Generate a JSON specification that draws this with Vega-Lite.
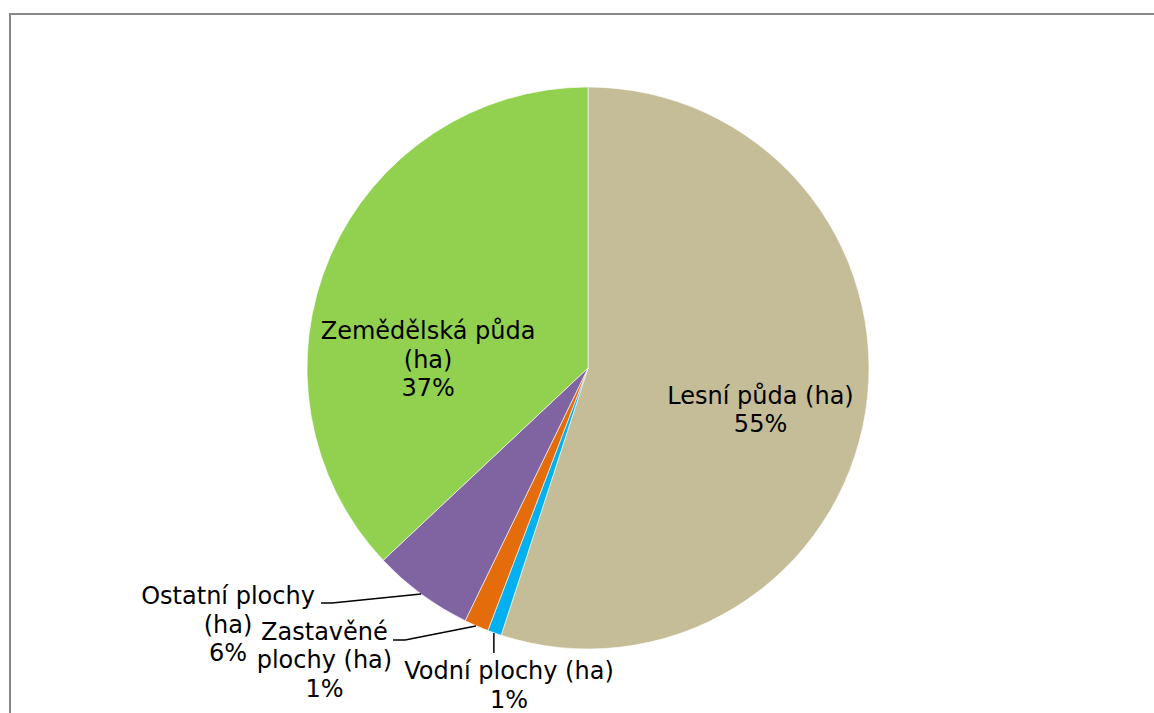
{
  "$schema": "https://vega.github.io/schema/vega-lite/v6.json",
  "width": 1156,
  "height": 708,
  "autosize": {"type": "none"},
  "padding": {"left": 10, "top": 14, "right": 0, "bottom": 0},
  "background": "#ffffff",
  "config": {
    "view": {"stroke": "#888888", "strokeWidth": 2},
    "font": "DejaVu Sans"
  },
  "datasets": {
    "vysece": [
      {"kategorie": "Lesní půda (ha)", "podil": 55.0, "poradi": 1},
      {"kategorie": "Vodní plochy (ha)", "podil": 0.8, "poradi": 2},
      {"kategorie": "Zastavěné plochy (ha)", "podil": 1.4, "poradi": 3},
      {"kategorie": "Ostatní plochy (ha)", "podil": 5.8, "poradi": 4},
      {"kategorie": "Zemědělská půda (ha)", "podil": 37.0, "poradi": 5}
    ],
    "popisky": [
      {"kategorie": "Lesní půda (ha)", "text": "Lesní půda (ha)\n55%", "lx": 61.4, "ly": -10.3},
      {"kategorie": "Zemědělská půda (ha)", "text": "Zemědělská půda\n(ha)\n37%", "lx": -56.9, "ly": 12.8},
      {"kategorie": "Ostatní plochy (ha)", "text": "Ostatní plochy\n(ha)\n6%", "lx": -128.1, "ly": -81.5},
      {"kategorie": "Zastavěné plochy (ha)", "text": "Zastavěné\nplochy (ha)\n1%", "lx": -93.8, "ly": -94.3},
      {"kategorie": "Vodní plochy (ha)", "text": "Vodní plochy (ha)\n1%", "lx": -28.1, "ly": -108.2}
    ],
    "vodici": [
      {"kategorie": "Ostatní plochy (ha)", "bod": 1, "lx": -95.0, "ly": -83.6},
      {"kategorie": "Ostatní plochy (ha)", "bod": 2, "lx": -91.1, "ly": -83.6},
      {"kategorie": "Ostatní plochy (ha)", "bod": 3, "lx": -59.4, "ly": -80.4},
      {"kategorie": "Zastavěné plochy (ha)", "bod": 1, "lx": -69.4, "ly": -96.8},
      {"kategorie": "Zastavěné plochy (ha)", "bod": 2, "lx": -65.1, "ly": -96.8},
      {"kategorie": "Zastavěné plochy (ha)", "bod": 3, "lx": -39.9, "ly": -91.8},
      {"kategorie": "Vodní plochy (ha)", "bod": 1, "lx": -33.5, "ly": -94.3},
      {"kategorie": "Vodní plochy (ha)", "bod": 2, "lx": -33.5, "ly": -101.4}
    ]
  },
  "layer": [
    {
      "data": {"name": "vysece"},
      "mark": {"type": "arc", "outerRadius": 281, "stroke": "#ffffff", "strokeWidth": 0.6},
      "encoding": {
        "theta": {"field": "podil", "type": "quantitative", "stack": true},
        "order": {"field": "poradi", "type": "quantitative"},
        "color": {
          "field": "kategorie",
          "type": "nominal",
          "legend": null,
          "scale": {
            "domain": ["Lesní půda (ha)", "Vodní plochy (ha)", "Zastavěné plochy (ha)", "Ostatní plochy (ha)", "Zemědělská půda (ha)"],
            "range": ["#C4BD97", "#00B0F0", "#E46C0A", "#8064A2", "#92D050"]
          }
        }
      }
    },
    {
      "data": {"name": "vodici"},
      "mark": {"type": "line", "color": "#000000", "strokeWidth": 1.5},
      "encoding": {
        "x": {"field": "lx", "type": "quantitative", "axis": null, "scale": {"domain": [-205.694, 205.694], "nice": false, "zero": false}},
        "y": {"field": "ly", "type": "quantitative", "axis": null, "scale": {"domain": [-125.98, 125.98], "nice": false, "zero": false}},
        "detail": {"field": "kategorie", "type": "nominal"},
        "order": {"field": "bod", "type": "quantitative"}
      }
    },
    {
      "data": {"name": "popisky"},
      "mark": {"type": "text", "fontSize": 24, "lineHeight": 28.5, "lineBreak": "\n", "align": "center", "baseline": "middle", "color": "#000000"},
      "encoding": {
        "x": {"field": "lx", "type": "quantitative", "axis": null, "scale": {"domain": [-205.694, 205.694], "nice": false, "zero": false}},
        "y": {"field": "ly", "type": "quantitative", "axis": null, "scale": {"domain": [-125.98, 125.98], "nice": false, "zero": false}},
        "text": {"field": "text", "type": "nominal"}
      }
    }
  ]
}
